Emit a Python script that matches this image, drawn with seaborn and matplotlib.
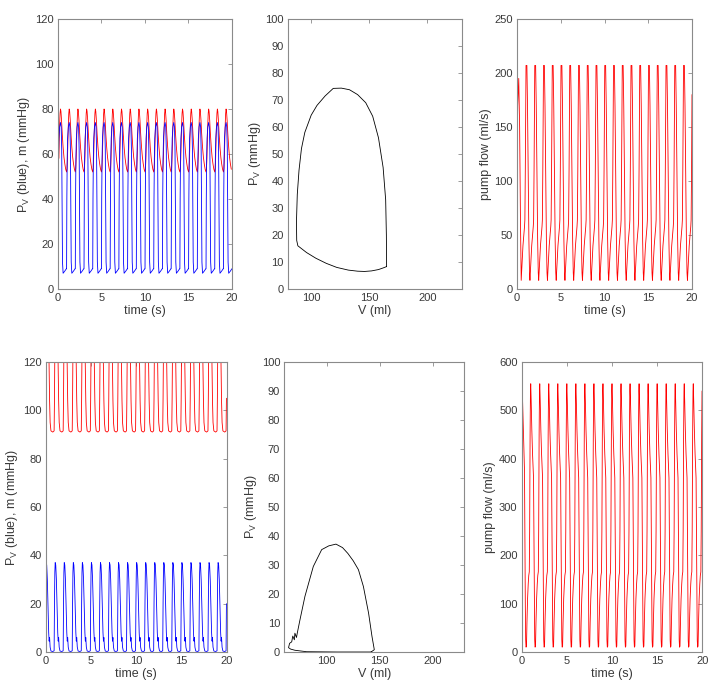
import matplotlib
matplotlib.use("Agg")
import matplotlib.pyplot as plt
import pandas as pd
import seaborn as sns

# Time span of the runs (s); every beat lasts one second.
T_END = 20.0
PERIOD = 1.0

# Top row: one beat (phase in s from beat onset).
top_phase = [0.0, 0.03, 0.07, 0.12, 0.2, 0.3, 0.38, 0.44, 0.49, 0.53, 0.6, 0.8, 0.97]
top_pv = [9, 40, 58, 67, 72, 74, 72, 62, 35, 12, 7, 8, 9]
top_m_phase = [0.0, 0.05, 0.1, 0.15, 0.2, 0.25, 0.3, 0.35, 0.42, 0.5, 0.6, 0.7, 0.8, 0.9]
top_m = [52, 53.5, 58, 66, 73, 78, 80, 79, 75, 69, 63, 58.5, 55.5, 53.2]
top_pv_start = ([0.0], [0.0])
top_m_start = ([0.0, 0.1], [62, 66])
top_beat0 = 0.02

top_flow_phase = [0.0, 0.1, 0.2, 0.3, 0.38, 0.42, 0.47, 0.52, 0.55, 0.65, 0.72, 0.8, 0.88, 0.95]
top_flow = [8, 25, 40, 50, 58, 64, 110, 180, 207, 207, 170, 110, 45, 15]
top_flow_start = ([0.0, 0.08, 0.2, 0.3, 0.4], [110, 170, 195, 150, 60])
top_flow_beat0 = 0.48

# Top PV loop (closed), V in ml and P in mmHg.
top_loop_v = [165, 164.8, 164.2, 162, 158, 153, 147, 140, 133, 126, 119, 112, 105,
              100, 94.5, 91.6, 89.5, 88, 87.3, 87.5, 88.5, 96, 104, 113, 122, 132,
              140, 146, 152, 158, 162, 165]
top_loop_p = [8.3, 20, 33, 45, 56, 64, 69, 72, 73.8, 74.4, 74.3, 71.5, 68,
              64.4, 58, 52, 44, 35, 25, 18, 16, 13.5, 11.4, 9.5, 8, 7,
              6.6, 6.5, 6.7, 7.2, 7.8, 8.3]

# Bottom row.
bot_phase = [0.0, 0.04, 0.08, 0.12, 0.18, 0.25, 0.32, 0.4, 0.45, 0.5, 0.56, 0.65, 0.85]
bot_pv = [0.5, 20, 33, 37, 36, 30, 20, 8, 4.5, 6, 2, 0.4, 0.2]
bot_m = [91.5, 105, 125, 135, 135, 135, 135, 130, 118, 104, 95, 91.5, 91]
bot_m_start = ([0.0], [50])
bot_beat0 = -0.07

bot_flow_phase = [0.0, 0.05, 0.12, 0.2, 0.27, 0.31, 0.35, 0.4, 0.44, 0.48, 0.53,
                  0.58, 0.65, 0.72, 0.78, 0.84, 0.88, 0.93, 0.97]
bot_flow = [555, 520, 460, 410, 380, 360, 250, 100, 25, 10, 12,
            60, 110, 140, 158, 166, 250, 450, 540]
bot_flow_start = ([0.0, 0.08, 0.18, 0.27, 0.31], [585, 530, 460, 400, 375])
bot_flow_beat0 = 0.0

bot_loop_v = [142, 145, 142.8, 139.6, 134.7, 130, 125, 120, 115, 108.8, 102, 95.3, 87.4,
              79.5, 74.8, 72.3, 71.5, 70, 69.5, 68, 67, 65, 64, 66, 70, 81, 110, 142]
bot_loop_p = [0, 0.8, 5.4, 13.4, 22.6, 28.4, 31.5, 34, 36, 37.2, 36.6, 35.3, 29.5,
              19.2, 11.1, 6.6, 5, 6.5, 4.2, 5.5, 3.5, 3, 1.5, 1, 0.6, 0.1, 0, 0]


def beat_series(phase, values, beat0, start=([], [])):
    """Repeat one read-off beat every PERIOD, after optional start-up points."""
    t = list(start[0])
    v = list(start[1])
    t_min = t[-1] if t else -1.0
    onset = beat0
    while onset < T_END:
        for p, val in zip(phase, values):
            tt = onset + p
            if tt > t_min and 0 <= tt <= T_END:
                t.append(tt)
                v.append(val)
        onset += PERIOD
    return pd.DataFrame({"t": t, "v": v})


sns.set_style("white")
plt.rcParams["font.family"] = ["Liberation Sans", "DejaVu Sans"]
plt.rcParams["mathtext.default"] = "regular"
EDGE = "#8a8a8a"
TXT = "#3a3a3a"
LW = 0.6

fig = plt.figure(figsize=(7.2, 6.91), dpi=100)


def frame(rect):
    # rect = (left, right, top, bottom) in figure pixels
    ax = fig.add_axes([rect[0] / 720, 1 - rect[3] / 691,
                       (rect[1] - rect[0]) / 720, (rect[3] - rect[2]) / 691])
    for s in ax.spines.values():
        s.set_color(EDGE)
        s.set_linewidth(0.8)
    ax.tick_params(direction="in", length=3, width=0.6, color=EDGE,
                   labelsize=8, labelcolor=TXT, top=True, right=True, pad=3)
    return ax


def style(ax, xlabel, ylabel, xlim, ylim, xticks, yticks):
    ax.set_xlim(*xlim)
    ax.set_ylim(*ylim)
    ax.set_xticks(xticks)
    ax.set_yticks(yticks)
    ax.set_xlabel(xlabel, fontsize=9, color=TXT, labelpad=1)
    ax.set_ylabel(ylabel, fontsize=9, color=TXT, labelpad=2)


def line(ax, df, color):
    sns.lineplot(data=df, x="t", y="v", ax=ax, color=color, lw=LW,
                 sort=False, estimator=None)


time_ticks = [0, 5, 10, 15, 20]
pv_label = "P$_V$ (blue), m (mmHg)"

# Top row
ax = frame((57.7, 232, 19, 289))
line(ax, beat_series(top_m_phase, top_m, top_beat0, top_m_start), "red")
line(ax, beat_series(top_phase, top_pv, top_beat0, top_pv_start), "blue")
style(ax, "time (s)", pv_label, (0, 20), (0, 120), time_ticks, range(0, 121, 20))

ax = frame((288, 462, 19, 289))
sns.lineplot(x=top_loop_v, y=top_loop_p, ax=ax, color="black", lw=LW,
             sort=False, estimator=None)
style(ax, "V (ml)", "P$_V$ (mmHg)", (80, 230), (0, 100), [100, 150, 200], range(0, 101, 10))

ax = frame((517, 692, 19, 289))
line(ax, beat_series(top_flow_phase, top_flow, top_flow_beat0, top_flow_start), "red")
style(ax, "time (s)", "pump flow (ml/s)", (0, 20), (0, 250), time_ticks, range(0, 251, 50))

# Bottom row
ax = frame((45.7, 226.7, 362, 652))
line(ax, beat_series(bot_phase, bot_m, bot_beat0, bot_m_start), "red")
line(ax, beat_series(bot_phase, bot_pv, bot_beat0), "blue")
style(ax, "time (s)", pv_label, (0, 20), (0, 120), time_ticks, range(0, 121, 20))

ax = frame((284.3, 464.3, 362, 652))
sns.lineplot(x=bot_loop_v, y=bot_loop_p, ax=ax, color="black", lw=LW,
             sort=False, estimator=None)
style(ax, "V (ml)", "P$_V$ (mmHg)", (60, 230), (0, 100), [100, 150, 200], range(0, 101, 10))

ax = frame((521.7, 702.3, 362, 652))
line(ax, beat_series(bot_flow_phase, bot_flow, bot_flow_beat0, bot_flow_start), "red")
style(ax, "time (s)", "pump flow (ml/s)", (0, 20), (0, 600), time_ticks, range(0, 601, 100))

fig.savefig("out.png", dpi=100, facecolor="white")
